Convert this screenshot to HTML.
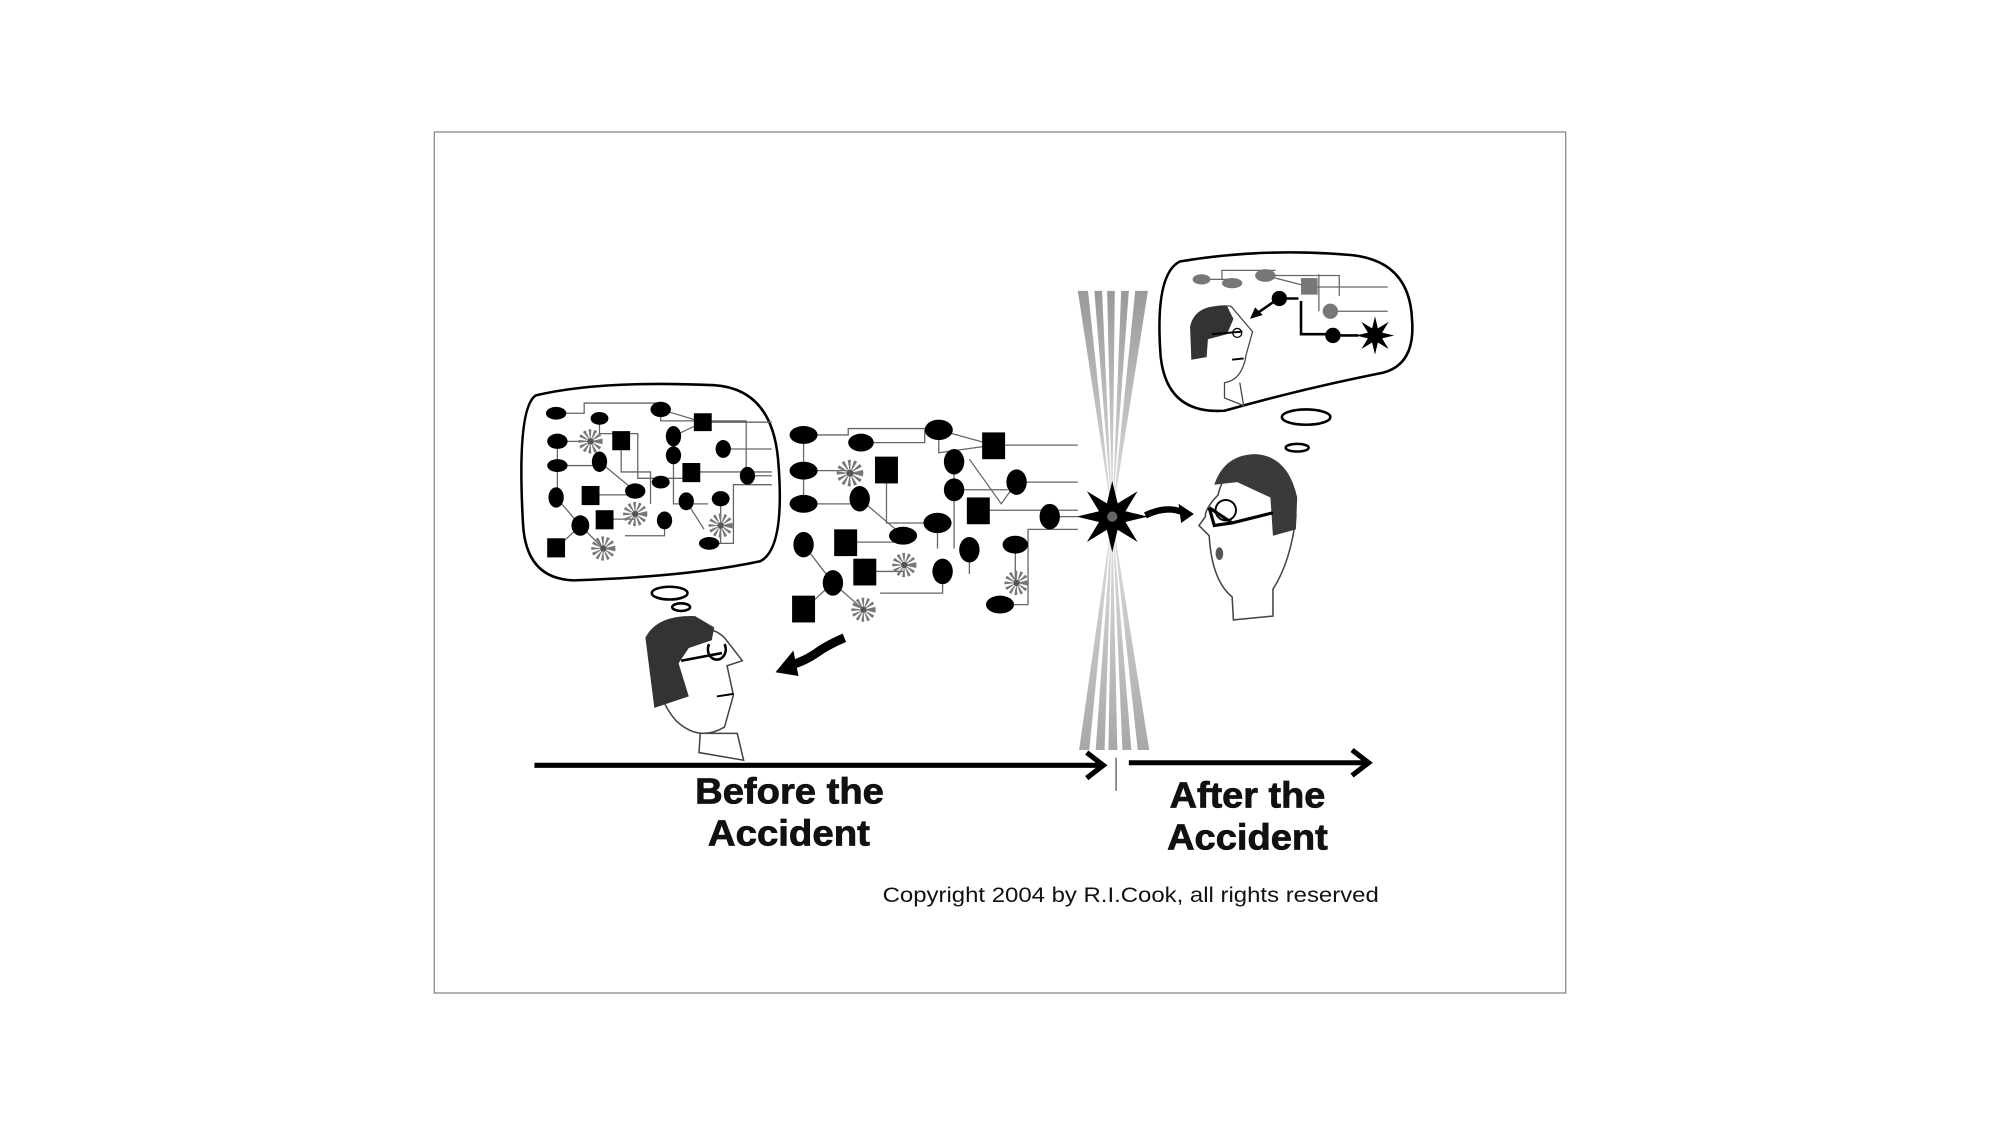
<!DOCTYPE html>
<html><head><meta charset="utf-8"><style>
html,body{margin:0;padding:0;background:#fff;}
svg{display:block;}
text{font-family:"Liberation Sans",sans-serif;}
</style></head><body>
<svg width="2000" height="1125" viewBox="0 0 1568 882" xmlns="http://www.w3.org/2000/svg">
<defs>
<polygon id="st" points="1,0 .37,.15 .71,.71 .15,.37 0,1 -.15,.37 -.71,.71 -.37,.15 -1,0 -.37,-.15 -.71,-.71 -.15,-.37 0,-1 .15,-.37 .71,-.71 .37,-.15"/>
<g id="gs"><circle r="6" fill="none" stroke="#777" stroke-width="7" stroke-dasharray="1.5 1.5"/><circle r="2.5" fill="#555"/></g>
<linearGradient id="gt" x1="0" y1="0" x2="0" y2="1"><stop offset="0" stop-color="#888"/><stop offset="1" stop-color="#ddd"/></linearGradient>
<linearGradient id="gb" x1="0" y1="0" x2="0" y2="1"><stop offset="0" stop-color="#ddd"/><stop offset="1" stop-color="#999"/></linearGradient>
</defs>
<rect x="0" y="0" width="1568" height="882" fill="#fff"/>
<rect x="340.5" y="103.5" width="887" height="675" fill="none" stroke="#888" stroke-width="1"/>

<g opacity="0.85">
<polygon points="845,228 853,228 872,405" fill="url(#gt)"/>
<polygon points="858,228 864,228 872,405" fill="url(#gt)"/>
<polygon points="868,228 874,228 872,405" fill="url(#gt)"/>
<polygon points="879,228 885,228 872,405" fill="url(#gt)"/>
<polygon points="890,228 900,228 872,405" fill="url(#gt)"/>
<polygon points="872,405 846,588 854,588" fill="url(#gb)"/>
<polygon points="872,405 859,588 866,588" fill="url(#gb)"/>
<polygon points="872,405 869,588 876,588" fill="url(#gb)"/>
<polygon points="872,405 880,588 887,588" fill="url(#gb)"/>
<polygon points="872,405 892,588 901,588" fill="url(#gb)"/>
</g>

<path d="M420,310 Q470,298 560,302 Q605,305 610,360 Q616,430 596,440 Q540,452 450,455 Q412,454 410,410 Q405,320 420,310 Z" fill="#fff" stroke="#000" stroke-width="2"/>
<g stroke="#666" stroke-width="1" fill="none">
<path d="M436,324 H458 V316 H518 V330 H585 V380"/><path d="M470,328 V340 H500 V375 H540"/><path d="M437,346 H470 M437,346 V390"/>
<path d="M518,321 L551,331 L528,342 M551,331 H605 M567,352 H605 M528,357 V395 H555"/>
<path d="M487,345 V370 H510 V395 M542,370 H605 M586,373 H605"/>
<path d="M463,388 H498 M436,390 L455,412 L473,430 M455,412 L436,430 M474,407 H498"/>
<path d="M521,408 V420 H490 M565,391 V426 M556,426 H575 V380 H605 M538,393 L552,415"/>
<path d="M470,362 L498,385 M437,365 H470"/>
</g>
<g fill="#000">
<ellipse cx="436" cy="324" rx="8" ry="5"/><ellipse cx="470" cy="328" rx="7" ry="5"/><ellipse cx="518" cy="321" rx="8" ry="6"/>
<ellipse cx="437" cy="346" rx="8" ry="6"/><ellipse cx="437" cy="365" rx="8" ry="5"/><ellipse cx="470" cy="362" rx="6" ry="8"/>
<ellipse cx="528" cy="342" rx="6" ry="8"/><ellipse cx="528" cy="357" rx="6" ry="7"/><ellipse cx="567" cy="352" rx="6" ry="7"/>
<ellipse cx="586" cy="373" rx="6" ry="7"/><ellipse cx="436" cy="390" rx="6" ry="8"/><ellipse cx="498" cy="385" rx="8" ry="6"/>
<ellipse cx="518" cy="378" rx="7" ry="5"/><ellipse cx="455" cy="412" rx="7" ry="8"/><ellipse cx="521" cy="408" rx="6" ry="7"/>
<ellipse cx="538" cy="393" rx="6" ry="7"/><ellipse cx="565" cy="391" rx="7" ry="6"/><ellipse cx="556" cy="426" rx="8" ry="5"/>
<rect x="544" y="324" width="14" height="14"/><rect x="480" y="338" width="14" height="15"/><rect x="535" y="363" width="14" height="15"/>
<rect x="456" y="381" width="14" height="15"/><rect x="467" y="400" width="14" height="15"/><rect x="429" y="422" width="14" height="15"/>
</g>
<use href="#gs" x="463" y="346"/><use href="#gs" x="498" y="403"/><use href="#gs" x="565" y="412"/><use href="#gs" x="473" y="430"/>

<g stroke="#666" stroke-width="1" fill="none">
<path d="M630,341 H665 V336 H736 M675,347 H725 V337 M736,337 V355 L779,349 M736,337 L779,349 H845"/>
<path d="M630,369 H664 M630,341 V395 M630,395 H674 M695,368 V410 H735 M674,391 L708,420"/>
<path d="M748,362 V430 M748,384 H790 M760,360 L785,395 L797,378 M797,378 H845 M767,400 H845 M823,405 H845"/>
<path d="M630,427 L653,457 L677,478 M653,457 L630,478 M663,425 H708 M678,448 H709"/>
<path d="M739,448 V465 H690 M760,431 V450 M784,474 H806 V415 H845 M796,427 V457 M735,410 V430"/>
</g>
<g fill="#000">
<ellipse cx="630" cy="341" rx="11" ry="7"/><ellipse cx="675" cy="347" rx="10" ry="7"/><ellipse cx="736" cy="337" rx="11" ry="8"/>
<ellipse cx="630" cy="369" rx="11" ry="7"/><ellipse cx="630" cy="395" rx="11" ry="7"/><ellipse cx="674" cy="391" rx="8" ry="10"/>
<ellipse cx="748" cy="362" rx="8" ry="10"/><ellipse cx="748" cy="384" rx="8" ry="9"/><ellipse cx="797" cy="378" rx="8" ry="10"/>
<ellipse cx="823" cy="405" rx="8" ry="10"/><ellipse cx="735" cy="410" rx="11" ry="8"/><ellipse cx="630" cy="427" rx="8" ry="10"/>
<ellipse cx="708" cy="420" rx="11" ry="7"/><ellipse cx="653" cy="457" rx="8" ry="10"/><ellipse cx="739" cy="448" rx="8" ry="10"/>
<ellipse cx="760" cy="431" rx="8" ry="10"/><ellipse cx="796" cy="427" rx="10" ry="7"/><ellipse cx="784" cy="474" rx="11" ry="7"/>
<rect x="770" y="339" width="18" height="21"/><rect x="686" y="358" width="18" height="21"/><rect x="758" y="390" width="18" height="21"/>
<rect x="654" y="415" width="18" height="21"/><rect x="669" y="438" width="18" height="21"/><rect x="621" y="467" width="18" height="21"/>
</g>
<use href="#gs" x="664" y="369" transform="translate(-64 -35) scale(1.1)" /><use href="#gs" x="709" y="443"/><use href="#gs" x="797" y="457"/><use href="#gs" x="677" y="478"/>

<use href="#st" transform="translate(872 405) scale(28)" fill="#000"/>
<circle cx="872" cy="405" r="4" fill="#666"/>
<path d="M898,404 Q915,396 928,402" stroke="#000" stroke-width="5" fill="none"/>
<polygon points="936,403 924,395 926,410" fill="#000"/>

<path d="M662,500 Q648,506 640,512 Q628,520 617,522" stroke="#000" stroke-width="7" fill="none"/>
<polygon points="608,527 622,510 626,530" fill="#000"/>

<ellipse cx="525" cy="465" rx="14" ry="5" fill="#fff" stroke="#000" stroke-width="2"/>
<ellipse cx="534" cy="476" rx="7" ry="3" fill="#fff" stroke="#000" stroke-width="2"/>
<path d="M515,510 Q512,545 530,565 Q548,582 568,570 L575,545 L570,522 L582,518 L568,500 Q550,482 515,510 Z" fill="#fff" stroke="#444" stroke-width="1.2"/>
<path d="M549,575 L548,590 L583,596 L578,575 Z" fill="#fff" stroke="#444" stroke-width="1.2"/>
<path d="M506,500 Q515,482 545,483 L560,492 L558,502 L540,508 L532,520 L540,546 L513,555 Z" fill="#333"/>
<path d="M534,518 L566,512 M556,505 a7,8 0 1 0 12,0" stroke="#000" stroke-width="2" fill="none"/>
<path d="M562,546 L575,544" stroke="#000" stroke-width="1.5"/>

<ellipse cx="1024" cy="327" rx="19" ry="6" fill="#fff" stroke="#000" stroke-width="2"/>
<ellipse cx="1017" cy="351" rx="9" ry="3" fill="#fff" stroke="#000" stroke-width="2"/>
<path d="M955,388 Q945,398 945,405 L940,412 L948,420 Q950,455 966,468 L967,486 L998,483 L998,462 Q1012,440 1016,405 Q1015,365 985,360 Q960,365 955,388 Z" fill="#fff" stroke="#444" stroke-width="1.2"/>
<path d="M952,380 Q960,356 985,356 Q1010,358 1017,390 L1016,415 L998,420 L996,390 L970,378 Z" fill="#3a3a3a"/>
<circle cx="961" cy="400" r="8" fill="#fff" stroke="#000" stroke-width="1.5"/>
<path d="M948,398 L966,410 L998,402 M948,398 L952,412 L966,410" stroke="#000" stroke-width="2.5" fill="none"/>
<ellipse cx="956" cy="434" rx="3" ry="5" fill="#555"/>

<path d="M925,205 Q990,194 1060,200 Q1105,205 1107,250 Q1110,285 1085,292 Q1020,305 960,322 Q915,325 910,280 Q905,215 925,205 Z" fill="#fff" stroke="#000" stroke-width="2"/>
<g stroke="#666" stroke-width="1" fill="none">
<path d="M942,219 H966 M958,219 V212 H1000 M992,216 L1027,225 M992,216 H1050 V232 M1027,225 H1088 M1043,244 H1088 M1034,215 V244"/>
</g>
<g fill="#777"><ellipse cx="942" cy="219" rx="7" ry="4"/><ellipse cx="966" cy="222" rx="8" ry="4"/><ellipse cx="992" cy="216" rx="8" ry="5"/><rect x="1020" y="218" width="13" height="13"/><circle cx="1043" cy="244" r="6"/></g>
<path d="M1020,236 V262 H1045 M1003,234 H1018 M1045,263 H1065 M998,237 L985,246" stroke="#000" stroke-width="2" fill="none"/>
<polygon points="980,250 984,241 990,247" fill="#000"/>
<circle cx="1003" cy="234" r="6" fill="#000"/><circle cx="1045" cy="263" r="6" fill="#000"/>
<use href="#st" transform="translate(1078 263) scale(15)" fill="#000"/>
<path d="M937,255 Q942,238 965,240 L982,260 L977,278 Q974,298 960,300 L960,312 L975,318 L972,300" fill="#fff" stroke="#444" stroke-width="1"/>
<path d="M933,256 Q937,238 962,240 L967,250 L962,262 L947,266 L946,280 L934,282 Z" fill="#333"/>
<path d="M950,262 L974,260" stroke="#000" stroke-width="1.5"/><circle cx="970" cy="261" r="3.5" fill="none" stroke="#000" stroke-width="1"/>
<path d="M966,282 L975,281" stroke="#000" stroke-width="1.5"/>

<path d="M419,600 H862" stroke="#000" stroke-width="4"/>
<path d="M852,590 L865,600 L852,610" stroke="#000" stroke-width="4" fill="none"/>
<path d="M875,594 V620" stroke="#555" stroke-width="1"/>
<path d="M885,598 H1070" stroke="#000" stroke-width="4"/>
<path d="M1060,588 L1073,598 L1060,608" stroke="#000" stroke-width="4" fill="none"/>

<g font-weight="bold" font-size="28" fill="#111" stroke="#111" stroke-width="0.6">
<text x="545" y="630" textLength="148" lengthAdjust="spacingAndGlyphs">Before the</text>
<text x="555" y="663" textLength="127" lengthAdjust="spacingAndGlyphs">Accident</text>
<text x="917" y="633" textLength="122" lengthAdjust="spacingAndGlyphs">After the</text>
<text x="915" y="666" textLength="126" lengthAdjust="spacingAndGlyphs">Accident</text>
</g>
<text x="692" y="707" font-size="17" fill="#111" textLength="389" lengthAdjust="spacingAndGlyphs">Copyright 2004 by R.I.Cook, all rights reserved</text>
</svg>
</body></html>
